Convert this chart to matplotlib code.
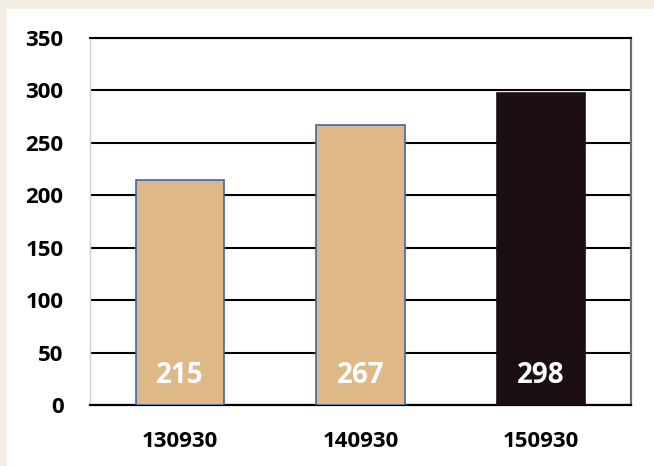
import matplotlib.pyplot as plt
from matplotlib.patches import Rectangle

categories = ["130930", "140930", "150930"]
values = [215, 267, 298]
face_colors = ["#dfb887", "#dfb887", "#1b0f12"]
edge_colors = ["#3f67a3", "#3f67a3", "#1b0f12"]
y_ticks = [0, 50, 100, 150, 200, 250, 300, 350]

plt.rcParams['font.family'] = ['Open Sans', 'DejaVu Sans']

fig = plt.figure(figsize=(6.54, 4.66), dpi=100)
fig.patch.set_facecolor("#f3efe4")
# white panel inside the cream border
fig.add_artist(Rectangle((7 / 654, 0), 1, 1 - 9 / 466, transform=fig.transFigure,
                         facecolor="white", edgecolor="none", zorder=0))

ax = fig.add_axes([90 / 654, 61 / 466, 541 / 654, 367 / 466])
ax.set_facecolor("white")

x = range(len(categories))
ax.bar(x, values, width=0.49, color=face_colors, edgecolor=edge_colors,
       linewidth=1.2, zorder=3)

for i, v in enumerate(values):
    ax.text(i, 28, str(v), ha="center", va="center", color="white",
            fontsize=20, fontweight="bold", zorder=4)

ax.set_xlim(-0.5, len(categories) - 0.5)
ax.set_ylim(0, 350)
ax.set_yticks(y_ticks)
ax.set_xticks(list(x))
ax.set_xticklabels(categories)
ax.tick_params(axis="both", length=0, labelsize=16)
ax.tick_params(axis="y", pad=19)
ax.tick_params(axis="x", pad=19)
for lab in ax.get_xticklabels() + ax.get_yticklabels():
    lab.set_fontweight("bold")

ax.yaxis.grid(True, color="black", linewidth=1.5, zorder=1)
ax.set_axisbelow(True)

ax.spines["left"].set_color("#d0d0d0")
ax.spines["left"].set_linewidth(1.0)
ax.spines["right"].set_color("#6e6e6e")
ax.spines["right"].set_linewidth(1.6)
ax.spines["top"].set_color("black")
ax.spines["top"].set_linewidth(1.5)
ax.spines["bottom"].set_color("black")
ax.spines["bottom"].set_linewidth(1.6)

fig.savefig("out.png", dpi=100, facecolor=fig.get_facecolor())
